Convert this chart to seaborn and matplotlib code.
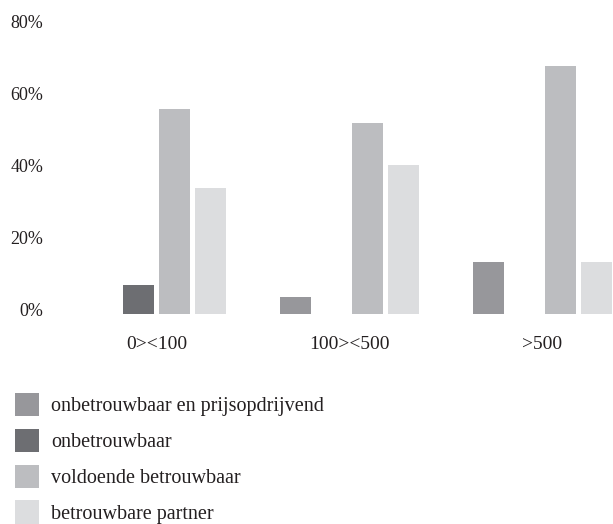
import matplotlib
matplotlib.use("Agg")
import matplotlib.pyplot as plt
import matplotlib.transforms as mtransforms
import pandas as pd
import seaborn as sns

# data (percent)
groups = ["0><100", "100><500", ">500"]
series = ["onbetrouwbaar en prijsopdrijvend", "onbetrouwbaar",
          "voldoende betrouwbaar", "betrouwbare partner"]
prijsopdrijvend = [0, 4.6, 14.5]
onbetrouwbaar = [8.0, 0, 0]
voldoende = [57.0, 53.0, 69.0]
betrouwbaar = [35.0, 41.5, 14.5]
yticks = [0, 20, 40, 60, 80]

colors = ["#97979b", "#6d6e72", "#bcbdc0", "#dcdddf"]

rows = []
for s, vals in zip(series, [prijsopdrijvend, onbetrouwbaar, voldoende, betrouwbaar]):
    for g, v in zip(groups, vals):
        rows.append({"groep": g, "reeks": s, "pct": v})
df = pd.DataFrame(rows)

sns.set_theme(style="white")
plt.rcParams["font.family"] = ["Liberation Serif", "DejaVu Serif"]
plt.rcParams["text.color"] = "#231f20"

fig = plt.figure(figsize=(6.13, 5.24), dpi=100)
ax = fig.add_axes([45 / 613, (524 - 314) / 524, 1 - 45 / 613, 288 / 524])

sns.barplot(data=df, x="groep", y="pct", hue="reeks", hue_order=series,
            palette=colors, width=0.75, gap=0.14, saturation=1,
            edgecolor="none", linewidth=0, ax=ax)

ax.set_xlim(-0.578, 2.365)
ax.set_ylim(0, 80)
ax.set_yticks(yticks)
ax.set_yticklabels([f"{t}%" for t in yticks])
ax.set_xlabel("")
ax.set_ylabel("")
sns.despine(ax=ax, left=True, bottom=True)
ax.tick_params(axis="y", length=0, pad=1, labelsize=13, labelcolor="#231f20")
ax.tick_params(axis="x", length=0, pad=16, labelsize=14, labelcolor="#231f20")

# labels in the reference sit a few pixels above their ticks
shift = mtransforms.ScaledTranslation(0, 5 / 100, fig.dpi_scale_trans)
for lbl in ax.get_yticklabels():
    lbl.set_transform(lbl.get_transform() + shift)

handles, labels = ax.get_legend_handles_labels()
ax.legend(handles, labels, loc="upper left",
          bbox_to_anchor=(15 / 613, (524 - 393) / 524),
          bbox_transform=fig.transFigure, frameon=False, fontsize=14.5,
          borderpad=0, borderaxespad=0, handlelength=1.2, handleheight=1.4,
          handletextpad=0.6, labelspacing=0.62)

fig.savefig("out.png", dpi=100)
